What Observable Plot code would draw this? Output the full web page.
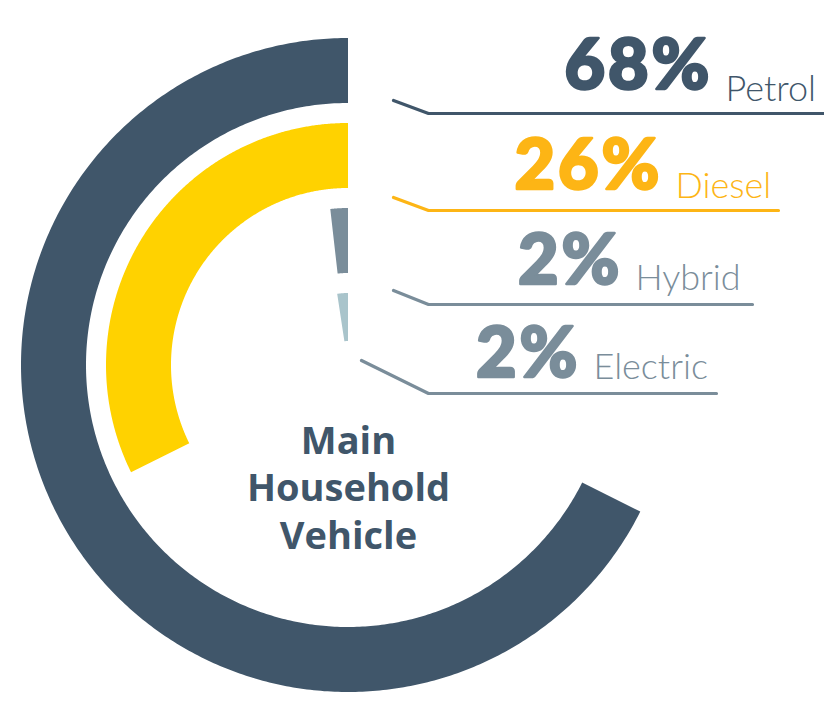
<!DOCTYPE html>
<html>
<head>
<meta charset="utf-8">
<script src="https://cdn.jsdelivr.net/npm/d3@7"></script>
<script src="https://cdn.jsdelivr.net/npm/@observablehq/plot@0.6"></script>
<style>
  html, body { margin: 0; padding: 0; background: #fff; }
  #chart svg { display: block; }
</style>
</head>
<body>
<div id="chart"></div>
<script>
// ---------- data ----------
const categories = ["Petrol", "Diesel", "Hybrid", "Electric"];
const shareLabels = [68, 26, 2, 2];            // printed percentages
const arcShare = [67.6, 32.3, 1.8, 2.4];       // drawn arc extent (% of full circle)
const arcColors = ["#40566a", "#ffd200", "#7a8d9a", "#a9c4cb"];
const textColors = ["#40566a", "#fdb515", "#7a8d9a", "#7a8d9a"];
const centerTitle = "Main\nHousehold\nVehicle";

// ---------- layout (pixels) ----------
const W = 824, H = 707, cx = 348, cy = 365;
const outer0 = 327, ringStep = 85, ringWidth = 65, minInner = 24;
const lineY = [113, 210, 304, 393];
const lineEnd = [824, 778, 752, 716];
const leaderStartX = [393, 393, 393, 361];
const leaderRise = [13, 13, 14, 33];
const elbowX = 428;
const nameLeft = [725, 675, 635, 593];
const nameBase = [100, 197, 289, 378];
const numBase = [88, 188, 283, 376];
const numGap = 13;

const px = v => v - cx;   // pixel -> data x
const py = v => cy - v;   // pixel -> data y

// ---------- arcs ----------
const arcPts = categories.flatMap((c, i) => {
  const ro = outer0 - i * ringStep;
  const ri = Math.max(ro - ringWidth, minInner);
  const tMax = arcShare[i] / 100 * 2 * Math.PI;
  const n = 400;
  return d3.range(n + 1).map(k => {
    const t = tMax * k / n;
    return {cat: c, color: arcColors[i],
      x1: -ro * Math.sin(t), y1: ro * Math.cos(t),
      x2: -ri * Math.sin(t), y2: ri * Math.cos(t)};
  });
});

// ---------- leaders ----------
const leaderPts = categories.flatMap((c, i) => [
  {cat: c, color: textColors[i], x: px(leaderStartX[i]), y: py(lineY[i] - leaderRise[i])},
  {cat: c, color: textColors[i], x: px(elbowX), y: py(lineY[i])},
  {cat: c, color: textColors[i], x: px(lineEnd[i]), y: py(lineY[i])}
]);

const rows = categories.map((c, i) => ({
  cat: c, pct: shareLabels[i], color: textColors[i],
  nameX: px(nameLeft[i]), nameY: py(nameBase[i]),
  numX: px(nameLeft[i] - numGap), numY: py(numBase[i])
}));

const chart = Plot.plot({
  width: W, height: H,
  margin: 0,
  x: {domain: [px(0), px(W)], axis: null},
  y: {domain: [py(H), py(0)], axis: null},
  color: {type: "identity"},
  marks: [
    Plot.area(arcPts, {x1: "x1", y1: "y1", x2: "x2", y2: "y2", fill: "color", z: "cat"}),
    Plot.line(leaderPts, {x: "x", y: "y", z: "cat", stroke: "color", strokeWidth: 3.2, strokeLinejoin: "miter"}),
    Plot.text(rows, {x: "numX", y: "numY", text: d => d.pct + "%", fill: "color", stroke: "color", strokeWidth: 2.6,
      textAnchor: "end", lineAnchor: "bottom", fontFamily: "Lato", fontWeight: 900, fontSize: 70}),
    Plot.text(rows, {x: "nameX", y: "nameY", text: "cat", fill: "color",
      textAnchor: "start", lineAnchor: "bottom", fontFamily: "Lato", fontWeight: 300, fontSize: 36}),
    Plot.text([centerTitle], {x: d => 0, y: d => py(548), text: d => d, fill: "#40566a",
      textAnchor: "middle", lineAnchor: "bottom", lineHeight: 1.24,
      fontFamily: "Open Sans", fontWeight: 700, fontSize: 38})
  ]
});
chart.style.background = "#fff";
chart.querySelectorAll("text").forEach(t => {
  if (t.textContent.trim().endsWith("%")) t.style.letterSpacing = "3px";
});
document.getElementById("chart").appendChild(chart);
</script>
</body>
</html>
